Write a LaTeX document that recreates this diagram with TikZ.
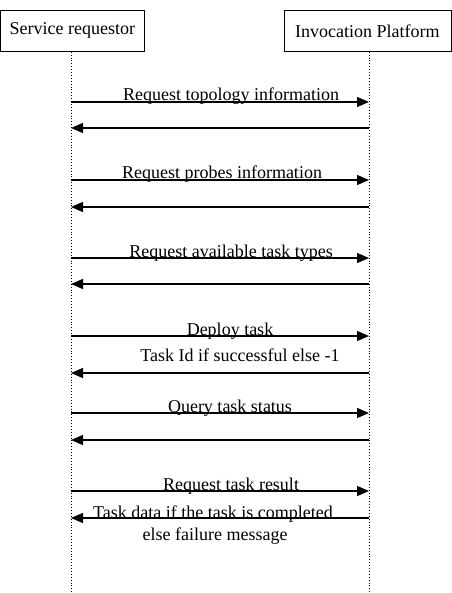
\documentclass[tikz,border=0pt]{standalone}
\usepackage{fontspec}
\setmainfont{Liberation Serif}
\usetikzlibrary{arrows.meta}

\begin{document}
\begin{tikzpicture}[x=1pt,y=-1pt,font=\fontsize{18}{21}\selectfont]
			\useasboundingbox (0,0) rectangle (451,593);
			\tikzset{msg/.style={line width=1.2pt,-{Triangle[length=12pt,width=10pt]}},
				lbl/.style={inner sep=1pt,anchor=base}}
			\node[draw,minimum width=144,minimum height=41,anchor=north west,line width=0.8pt](req) at (0,10) {Service requestor};
			\node[draw,minimum width=167,minimum height=41,anchor=north west,line width=0.8pt](inv) at (283.5,10) {Invocation Platform};
			\coordinate(reqend) at (71,593);
			\coordinate(invend) at (369,593);
			\draw[dotted,line width=0.9pt](req.south -| reqend) -- (reqend);
			\draw[dotted,line width=0.9pt](inv.south -| invend) -- (invend);
			% message rows
			\foreach \n/\y in {1/102,2/128,3/180,4/207,5/258,6/284,7/336,8/373,9/413,10/440,11/491,12/518}{
				\coordinate(r\n) at (71,\y);
				\coordinate(i\n) at (369,\y);
			}
			\draw[msg](r1) -- (i1);
			\draw[msg](i2) -- (r2);
			\draw[msg](r3) -- (i3);
			\draw[msg](i4) -- (r4);
			\draw[msg](r5) -- (i5);
			\draw[msg](i6) -- (r6);
			\draw[msg](r7) -- (i7);
			\draw[msg](i8) -- (r8);
			\draw[msg](r9) -- (i9);
			\draw[msg](i10) -- (r10);
			\draw[msg](r11) -- (i11);
			\draw[msg](i12) -- (r12);
			\node[lbl](l1) at (231,101) {Request topology information};
			\node[lbl](l3) at (222,179) {Request probes information};
			\node[lbl](l5) at (231,257) {Request available task types};
			\node[lbl](l7) at (230,335) {Deploy task};
			\node[lbl](l8) at (240,361) {Task Id if successful else -1};
			\node[lbl](l9) at (230,412) {Query task status};
			\node[lbl](l11) at (231,490) {Request task result};
			\node[lbl](l12a) at (213,518) {Task data if the task is completed};
			\node[lbl](l12b) at (215,540) {else failure message};
		\end{tikzpicture}
\end{document}
